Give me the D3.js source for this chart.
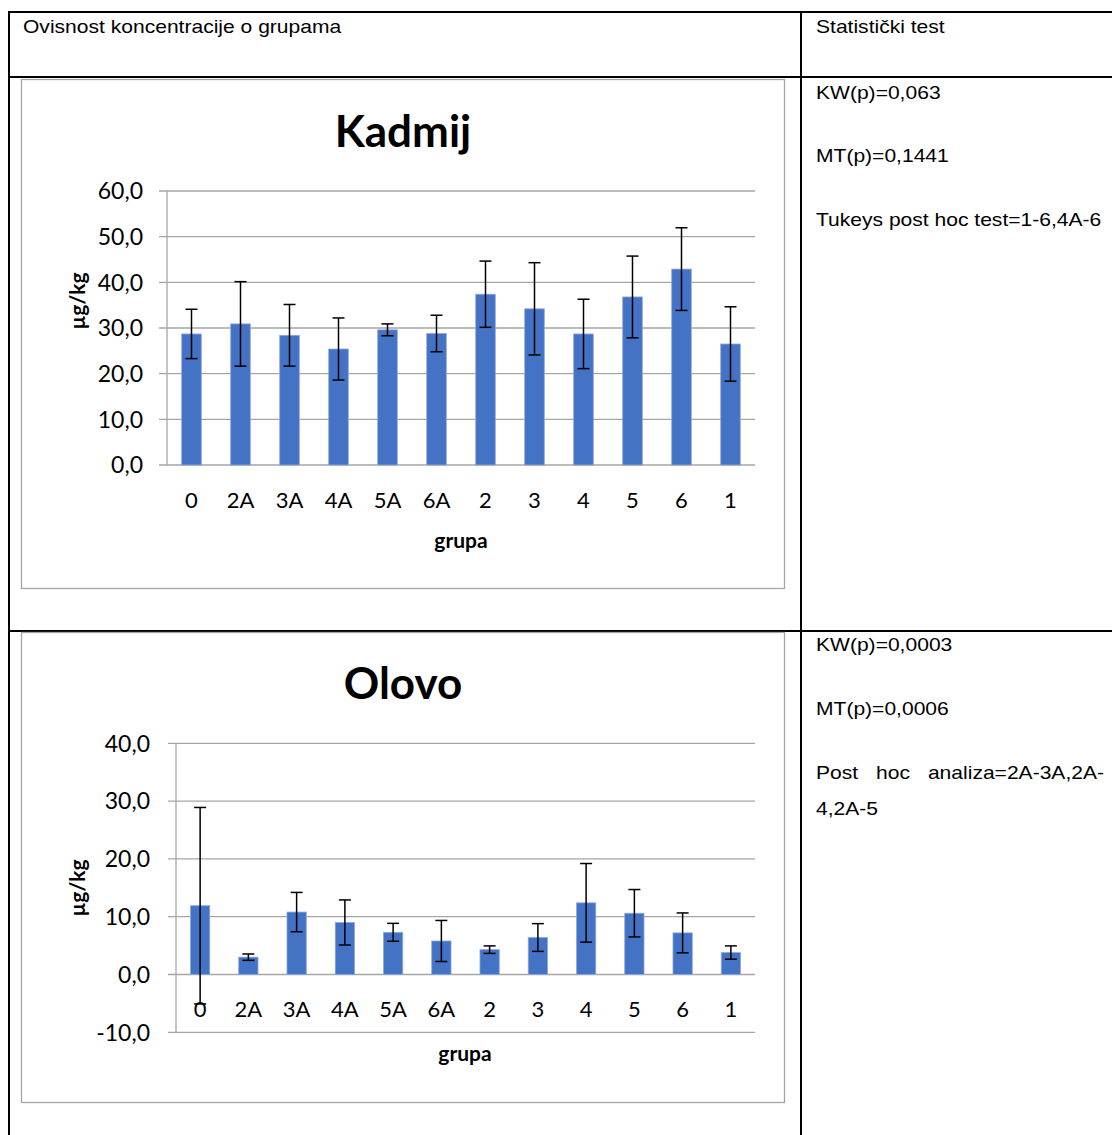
<!DOCTYPE html>
<html><head><meta charset="utf-8">
<script src="https://cdn.jsdelivr.net/npm/d3@7"></script>
<style>body{margin:0;background:#fff}svg{display:block}</style>
</head><body>
<script>
const categories = ["0","2A","3A","4A","5A","6A","2","3","4","5","6","1"];
const cadmiumMean = [28.7,30.9,28.4,25.4,29.6,28.8,37.4,34.2,28.7,36.8,42.9,26.5];
const cadmiumSD   = [5.4,9.25,6.75,6.8,1.3,4.0,7.25,10.1,7.6,8.95,9.05,8.15];
const leadMean = [11.9,3.0,10.8,9.0,7.3,5.8,4.3,6.4,12.4,10.6,7.2,3.8];
const leadSD   = [17.0,0.55,3.4,3.9,1.55,3.55,0.65,2.4,6.8,4.1,3.45,1.15];
const cadmiumTicks = [0,10,20,30,40,50,60];
const leadTicks = [-10,0,10,20,30,40];
const headerLeft = "Ovisnost koncentracije o grupama";
const headerRight = "Statistički test";

const W = 1112, H = 1135;
const svg = d3.select("body").append("svg").attr("width", W).attr("height", H);
const loc = d3.formatLocale({decimal:",", thousands:".", grouping:[3], currency:["",""], minus:"-"});
const fmt = loc.format(".1f");
const tableFont = "'Liberation Sans', Arial, sans-serif";
const chartFont = "Lato, 'Open Sans', sans-serif";

// table
const tl = svg.append("g").attr("stroke", "#000").attr("stroke-width", 2);
tl.append("line").attr("x1", 8).attr("x2", W).attr("y1", 12).attr("y2", 12);
tl.append("line").attr("x1", 8).attr("x2", W).attr("y1", 77).attr("y2", 77);
tl.append("line").attr("x1", 8).attr("x2", W).attr("y1", 631).attr("y2", 631);
tl.append("line").attr("x1", 9).attr("x2", 9).attr("y1", 11).attr("y2", H);
tl.append("line").attr("x1", 801).attr("x2", 801).attr("y1", 11).attr("y2", H);

function ttext(x, y, s, anchor) {
  svg.append("text").attr("transform", `translate(${x},${y}) scale(1.17,1)`)
    .attr("font-family", tableFont)
    .attr("font-size", 18).attr("fill", "#000").attr("text-anchor", anchor || "start").text(s);
}
ttext(23, 33, headerLeft);
ttext(816, 33, headerRight);
ttext(816, 99, "KW(p)=0,063");
ttext(816, 162, "MT(p)=0,1441");
ttext(816, 226, "Tukeys post hoc test=1-6,4A-6");
ttext(816, 651, "KW(p)=0,0003");
ttext(816, 715, "MT(p)=0,0006");
ttext(816, 779, "Post");
ttext(876, 779, "hoc");
ttext(1104, 779, "analiza=2A-3A,2A-", "end");
ttext(816, 815, "4,2A-5");

function chart(cfg) {
  const g = svg.append("g");
  g.append("rect").attr("x", cfg.fx).attr("y", cfg.fy).attr("width", cfg.fw).attr("height", cfg.fh)
    .attr("fill", "#fff").attr("stroke", "#a6a6a6").attr("stroke-width", 1.3);
  const x = d3.scaleBand().domain(categories).range([cfg.x0, cfg.x1]).paddingInner(0.6).paddingOuter(0.3);
  const y = d3.scaleLinear().domain([cfg.ticks[0], cfg.ticks[cfg.ticks.length-1]]).range([cfg.yb, cfg.yt]);
  // gridlines
  g.append("g").selectAll("line").data(cfg.ticks).join("line")
    .attr("x1", cfg.x0 - 8).attr("x2", cfg.x1).attr("y1", d => y(d)).attr("y2", d => y(d))
    .attr("stroke", "#a6a6a6").attr("stroke-width", 1.3);
  g.append("line").attr("x1", cfg.x0).attr("x2", cfg.x0).attr("y1", y.range()[1]).attr("y2", y.range()[0])
    .attr("stroke", "#a6a6a6").attr("stroke-width", 1.3);
  // y labels
  g.append("g").selectAll("text").data(cfg.ticks).join("text")
    .attr("x", cfg.x0 - cfg.labOff).attr("y", d => y(d)).attr("dy", "0.36em")
    .attr("text-anchor", "end").attr("font-family", chartFont).attr("font-size", 23).attr("fill", "#000")
    .text(d => fmt(d));
  // bars
  g.append("g").selectAll("rect").data(cfg.mean).join("rect")
    .attr("x", (d, i) => x(categories[i])).attr("width", x.bandwidth())
    .attr("y", d => y(Math.max(0, d))).attr("height", d => Math.abs(y(d) - y(0)))
    .attr("fill", "#4472c4").attr("stroke", "#8eaadb").attr("stroke-width", 0.8);
  // error bars
  const eb = g.append("g").attr("stroke", "#000").attr("stroke-width", 1.5);
  cfg.mean.forEach((m, i) => {
    const cx = x(categories[i]) + x.bandwidth() / 2;
    const top = y(m + cfg.sd[i]), bot = y(m - cfg.sd[i]);
    eb.append("line").attr("x1", cx).attr("x2", cx).attr("y1", top).attr("y2", bot);
    eb.append("line").attr("x1", cx - 6).attr("x2", cx + 6).attr("y1", top).attr("y2", top);
    eb.append("line").attr("x1", cx - 6).attr("x2", cx + 6).attr("y1", bot).attr("y2", bot);
  });
  // x labels
  g.append("g").selectAll("text").data(categories).join("text")
    .attr("x", d => x(d) + x.bandwidth() / 2).attr("y", cfg.xlabY)
    .attr("text-anchor", "middle").attr("font-family", chartFont).attr("font-size", 22).attr("fill", "#000")
    .text(d => d);
  g.append("text").attr("x", cfg.titleX).attr("y", cfg.titleY).attr("text-anchor", "middle")
    .attr("font-family", chartFont).attr("font-weight", "bold").attr("font-size", 44).text(cfg.title);
  g.append("text").attr("x", cfg.gx).attr("y", cfg.gy).attr("text-anchor", "middle")
    .attr("font-family", chartFont).attr("font-weight", "bold").attr("font-size", 21).text("grupa");
  g.append("text").attr("transform", `translate(${cfg.ux},${cfg.uy}) rotate(-90)`).attr("text-anchor", "middle")
    .attr("dy", "0.36em")
    .attr("font-family", chartFont).attr("font-weight", "bold").attr("font-size", 21).text("µg/kg");
}

chart({fx:21.5, fy:79.5, fw:763, fh:509, x0:167, x1:755, yt:191, yb:465, ticks:cadmiumTicks,
  mean:cadmiumMean, sd:cadmiumSD, labOff:24, xlabY:508, title:"Kadmij", titleX:403, titleY:147,
  gx:461, gy:548, ux:77, uy:301});
chart({fx:21.5, fy:632.5, fw:763, fh:470, x0:176, x1:755, yt:743.3, yb:1032.3, ticks:leadTicks,
  mean:leadMean, sd:leadSD, labOff:26, xlabY:1017, title:"Olovo", titleX:403, titleY:699,
  gx:465, gy:1061, ux:77, uy:888});
</script>
</body></html>
